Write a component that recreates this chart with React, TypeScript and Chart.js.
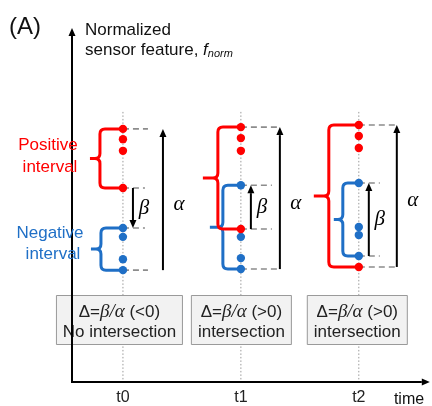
import { useEffect, useRef } from "react";
import { Chart, registerables } from "chart.js";

Chart.register(...registerables);

// ---------- data ----------
const timeLabels = ["t0", "t1", "t2"];
const timeValues = [0, 1, 2];
const axisTitleY = ["Normalized", "sensor feature, "];
const axisTitleX = "time";

// normalized sensor feature values of the samples in each interval
const positiveT0 = [0.715, 0.686, 0.653, 0.548];
const negativeT0 = [0.435, 0.41, 0.347, 0.316];
const positiveT1 = [0.72, 0.689, 0.653, 0.432];
const negativeT1 = [0.556, 0.41, 0.35, 0.319];
const positiveT2 = [0.726, 0.695, 0.661, 0.325];
const negativeT2 = [0.562, 0.438, 0.415, 0.356];
const positiveSeries = [positiveT0, positiveT1, positiveT2];
const negativeSeries = [negativeT0, negativeT1, negativeT2];

const deltaSigns = ["(<0)", "(>0)", "(>0)"];
const boxCaptions = ["No intersection", "intersection", "intersection"];
const positiveLabel = ["Positive", "interval"];
const negativeLabel = ["Negative", "interval"];

// ---------- styling / layout ----------
const RED = "#ff0000";
const BLUE = "#1f6fc6";
const GRAY = "#8c8c8c";
const SANS = '"Liberation Sans", Arial, sans-serif';
const SERIF_I = 'italic 21px "Liberation Serif", serif';
const X_MIN = -0.432;
const X_MAX = 2.585;
const DOTTED_TOP = 0.763;

const LAYOUT = [
  { alphaDx: 40, betaDx: 10, outerDash: 25, innerDash: 22, redV: -23, redTip: -33, blueV: -22, blueTip: -32, box: [-67, 60] },
  { alphaDx: 39, betaDx: 10, outerDash: 39, innerDash: 31, redV: -23, redTip: -38, blueV: -18, blueTip: -31, box: [-50, 51] },
  { alphaDx: 38, betaDx: 10, outerDash: 38, innerDash: 21, redV: -30, redTip: -45, blueV: -16, blueTip: -25, box: [-52, 49] },
];
const BOX_TOP = 295;
const BOX_BOTTOM = 345;

function arrow(ctx: CanvasRenderingContext2D, x1: number, y1: number, x2: number, y2: number, head = 8, hw = 3.5) {
  const ang = Math.atan2(y2 - y1, x2 - x1);
  const bx = x2 - head * Math.cos(ang);
  const by = y2 - head * Math.sin(ang);
  ctx.beginPath();
  ctx.moveTo(x1, y1);
  ctx.lineTo(bx, by);
  ctx.stroke();
  ctx.beginPath();
  ctx.moveTo(x2, y2);
  ctx.lineTo(bx + hw * Math.sin(ang), by - hw * Math.cos(ang));
  ctx.lineTo(bx - hw * Math.sin(ang), by + hw * Math.cos(ang));
  ctx.closePath();
  ctx.fill();
}

function brace(ctx: CanvasRenderingContext2D, xEnd: number, xv: number, xTip: number, yTop: number, yBot: number, r = 5) {
  const yMid = (yTop + yBot) / 2;
  ctx.beginPath();
  ctx.moveTo(xEnd, yTop);
  ctx.lineTo(xv + r, yTop);
  ctx.quadraticCurveTo(xv, yTop, xv, yTop + r);
  ctx.lineTo(xv, yMid - r);
  ctx.quadraticCurveTo(xv, yMid, xv - r, yMid);
  ctx.lineTo(xTip, yMid);
  ctx.moveTo(xv - r, yMid);
  ctx.quadraticCurveTo(xv, yMid, xv, yMid + r);
  ctx.lineTo(xv, yBot - r);
  ctx.quadraticCurveTo(xv, yBot, xv + r, yBot);
  ctx.lineTo(xEnd, yBot);
  ctx.stroke();
}

function mixedText(ctx: CanvasRenderingContext2D, parts: { t: string; f: string }[], cx: number, cy: number) {
  let total = 0;
  for (const p of parts) {
    ctx.font = p.f;
    total += ctx.measureText(p.t).width;
  }
  let x = cx - total / 2;
  ctx.textAlign = "left";
  ctx.textBaseline = "middle";
  for (const p of parts) {
    ctx.font = p.f;
    ctx.fillText(p.t, x, cy);
    x += ctx.measureText(p.t).width;
  }
}

const diagramPlugin = {
  id: "diagram",
  beforeDatasetsDraw(chart: any) {
    const ctx: CanvasRenderingContext2D = chart.ctx;
    const xs = chart.scales.x;
    const ys = chart.scales.y;
    const area = chart.chartArea;
    ctx.save();

    timeValues.forEach((t, i) => {
      const L = LAYOUT[i];
      const tx = xs.getPixelForValue(t);
      const pos = positiveSeries[i];
      const neg = negativeSeries[i];
      const pMax = Math.max(...pos), pMin = Math.min(...pos);
      const nMax = Math.max(...neg), nMin = Math.min(...neg);
      const top = ys.getPixelForValue(Math.max(pMax, nMax));
      const bot = ys.getPixelForValue(Math.min(pMin, nMin));
      const ovLow = ys.getPixelForValue(Math.max(pMin, nMin));
      const ovHigh = ys.getPixelForValue(Math.min(pMax, nMax));

      // dotted time line
      ctx.strokeStyle = "#9a9a9a";
      ctx.lineWidth = 1;
      ctx.setLineDash([1.5, 2]);
      ctx.beginPath();
      ctx.moveTo(tx, ys.getPixelForValue(DOTTED_TOP));
      ctx.lineTo(tx, area.bottom);
      ctx.stroke();

      // dashed level lines
      ctx.strokeStyle = GRAY;
      ctx.lineWidth = 1.6;
      ctx.setLineDash([6, 4]);
      ctx.beginPath();
      ctx.moveTo(tx, top); ctx.lineTo(tx + L.outerDash, top);
      ctx.moveTo(tx, bot); ctx.lineTo(tx + L.outerDash, bot);
      ctx.moveTo(tx, ovLow); ctx.lineTo(tx + L.innerDash, ovLow);
      ctx.moveTo(tx, ovHigh); ctx.lineTo(tx + L.innerDash, ovHigh);
      ctx.stroke();
      ctx.setLineDash([]);

      // braces
      ctx.lineWidth = 3;
      ctx.lineCap = "butt";
      ctx.lineJoin = "round";
      ctx.strokeStyle = BLUE;
      brace(ctx, tx - 2, tx + L.blueV, tx + L.blueTip, ys.getPixelForValue(nMax), ys.getPixelForValue(nMin));
      ctx.strokeStyle = RED;
      brace(ctx, tx - 2, tx + L.redV, tx + L.redTip, ys.getPixelForValue(pMax), ys.getPixelForValue(pMin));

      // alpha & beta arrows
      ctx.strokeStyle = "#000";
      ctx.fillStyle = "#000";
      ctx.lineWidth = 2;
      arrow(ctx, tx + L.alphaDx, bot, tx + L.alphaDx, top);
      arrow(ctx, tx + L.betaDx, ovLow, tx + L.betaDx, ovHigh);

      ctx.font = SERIF_I;
      ctx.textAlign = "center";
      ctx.textBaseline = "middle";
      ctx.fillText("\u03b1", tx + L.alphaDx + 16, (top + bot) / 2 + 5);
      ctx.fillText("\u03b2", tx + L.betaDx + 11, (ovLow + ovHigh) / 2);

      // caption box
      const bx1 = tx + L.box[0];
      const bx2 = tx + L.box[1];
      ctx.fillStyle = "#f2f2f2";
      ctx.fillRect(bx1, BOX_TOP, bx2 - bx1, BOX_BOTTOM - BOX_TOP);
      ctx.strokeStyle = "#9a9a9a";
      ctx.lineWidth = 1;
      ctx.strokeRect(bx1 + 0.5, BOX_TOP + 0.5, bx2 - bx1 - 1, BOX_BOTTOM - BOX_TOP - 1);
      ctx.fillStyle = "#222";
      const cx = (bx1 + bx2) / 2;
      mixedText(ctx, [
        { t: "\u0394=", f: `17px ${SANS}` },
        { t: "\u03b2/\u03b1", f: 'italic 19px "Liberation Serif", serif' },
        { t: " " + deltaSigns[i], f: `17px ${SANS}` },
      ], cx, BOX_TOP + 17);
      ctx.font = `17px ${SANS}`;
      ctx.textAlign = "center";
      ctx.fillText(boxCaptions[i], cx, BOX_TOP + 37);

      // tick label
      ctx.fillStyle = "#222";
      ctx.font = `16px ${SANS}`;
      ctx.fillText(timeLabels[i], tx, area.bottom + 16);
    });

    // axes
    ctx.strokeStyle = "#000";
    ctx.fillStyle = "#000";
    ctx.lineWidth = 2;
    arrow(ctx, area.left, area.bottom + 1, area.left, area.top, 8, 3.5);
    arrow(ctx, area.left - 1, area.bottom, area.right + 2, area.bottom, 8, 3.5);

    ctx.restore();
  },
  afterDatasetsDraw(chart: any) {
    const ctx: CanvasRenderingContext2D = chart.ctx;
    const area = chart.chartArea;
    ctx.save();
    ctx.textBaseline = "middle";
    ctx.fillStyle = "#111";
    ctx.textAlign = "left";
    ctx.font = `24px ${SANS}`;
    ctx.fillText("(A)", 9, 27);

    ctx.font = `17px ${SANS}`;
    ctx.fillText(axisTitleY[0], 85, 30);
    ctx.fillText(axisTitleY[1], 85, 50);
    let x = 85 + ctx.measureText(axisTitleY[1]).width;
    ctx.font = `italic 17px ${SANS}`;
    ctx.fillText("f", x, 50);
    x += ctx.measureText("f").width;
    ctx.font = `italic 11px ${SANS}`;
    ctx.fillText("norm", x, 54);

    ctx.font = `16px ${SANS}`;
    ctx.textAlign = "center";
    ctx.fillText(axisTitleX, 409, area.bottom + 18);

    ctx.font = `17px ${SANS}`;
    ctx.fillStyle = RED;
    ctx.fillText(positiveLabel[0], 48, 145);
    ctx.fillText(positiveLabel[1], 50, 167);
    ctx.fillStyle = BLUE;
    ctx.fillText(negativeLabel[0], 50, 233);
    ctx.fillText(negativeLabel[1], 53, 254);
    ctx.restore();
  },
};

export default function App() {
  const ref = useRef<HTMLCanvasElement>(null);
  useEffect(() => {
    document.body.style.margin = "0";
    const canvas = ref.current!;
    const datasets: any[] = [];
    timeValues.forEach((t, i) => {
      datasets.push({
        label: `Positive interval ${timeLabels[i]}`,
        data: positiveSeries[i].map((v) => ({ x: t, y: v })),
        backgroundColor: RED,
        borderWidth: 0,
        pointRadius: 4.2,
        clip: false,
      });
      datasets.push({
        label: `Negative interval ${timeLabels[i]}`,
        data: negativeSeries[i].map((v) => ({ x: t, y: v })),
        backgroundColor: BLUE,
        borderWidth: 0,
        pointRadius: 4.2,
        clip: false,
      });
    });
    const chart = new Chart(canvas, {
      type: "scatter",
      data: { datasets },
      options: {
        animation: false,
        responsive: false,
        devicePixelRatio: 1,
        layout: { padding: { left: 72, right: 4, top: 28, bottom: 24 } },
        scales: {
          x: { type: "linear", min: X_MIN, max: X_MAX, display: false },
          y: { type: "linear", min: 0, max: 1, display: false },
        },
        plugins: { legend: { display: false }, tooltip: { enabled: false } },
      },
      plugins: [diagramPlugin],
    });
    return () => chart.destroy();
  }, []);
  return <canvas ref={ref} width={432} height={406} style={{ display: "block" }} />;
}
